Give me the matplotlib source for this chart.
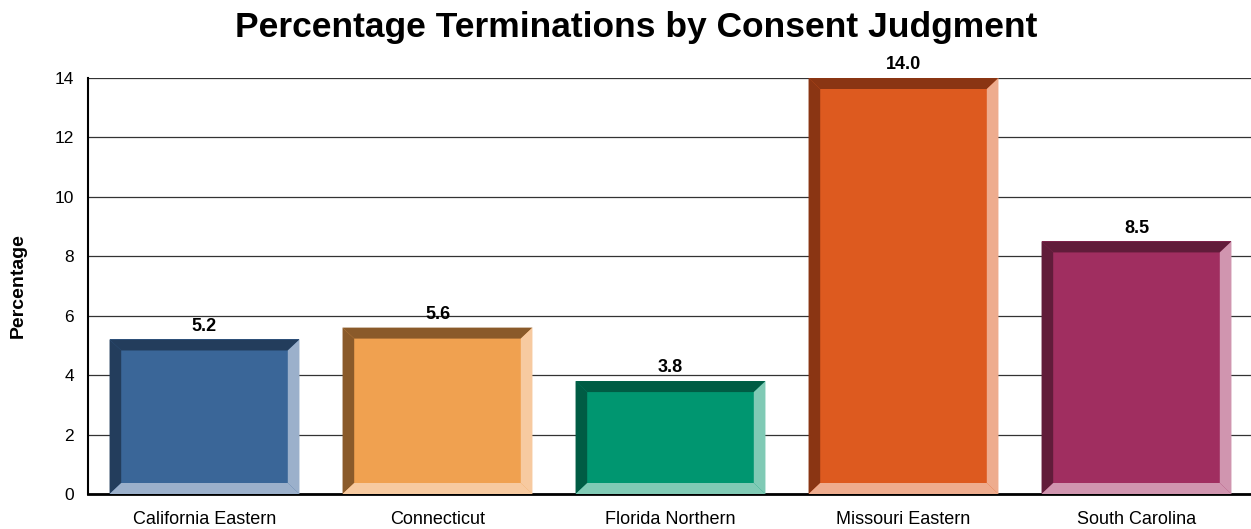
import matplotlib
matplotlib.use("Agg")
import matplotlib.pyplot as plt
from matplotlib.patches import Polygon

categories = ["California Eastern", "Connecticut", "Florida Northern", "Missouri Eastern", "South Carolina"]
values = [5.2, 5.6, 3.8, 14.0, 8.5]
main_colors = ["#3a6698", "#f0a150", "#009670", "#dd5a1f", "#a02e60"]
dark_colors = ["#233d5c", "#8a5a2a", "#005c44", "#8a3513", "#611c3a"]
light_colors = ["#9bb0cb", "#f7caa0", "#80cab5", "#eeac8e", "#d095af"]
yticks = [0, 2, 4, 6, 8, 10, 12, 14]

plt.rcParams['font.family'] = ['Liberation Sans', 'DejaVu Sans']

fig = plt.figure(figsize=(12.51, 5.29), dpi=100)
ax = fig.add_axes([88/1251, 35/529, 1165/1251, 416/529])

width = 0.815
bx = 0.05   # horizontal bevel in data units
by = 0.37   # vertical bevel in data units

xs = list(range(len(categories)))
bars = ax.bar(xs, values, width=width, color=main_colors, zorder=3, linewidth=0)

for x, v, dc, lc in zip(xs, values, dark_colors, light_colors):
    l, r = x - width/2, x + width/2
    b, t = 0, v
    il, ir, ib, it = l + bx, r - bx, b + by, t - by
    # dark: left + top
    ax.add_patch(Polygon([(l, b), (l, t), (il, it), (il, ib)], closed=True, color=dc, lw=0, zorder=4))
    ax.add_patch(Polygon([(l, t), (r, t), (ir, it), (il, it)], closed=True, color=dc, lw=0, zorder=4))
    # light: right + bottom
    ax.add_patch(Polygon([(r, t), (r, b), (ir, ib), (ir, it)], closed=True, color=lc, lw=0, zorder=4))
    ax.add_patch(Polygon([(l, b), (r, b), (ir, ib), (il, ib)], closed=True, color=lc, lw=0, zorder=4))
    ax.annotate(f"{v:.1f}", xy=(x, v), xytext=(0, 3.5), textcoords="offset points",
                ha="center", va="bottom", fontsize=13, fontweight="bold", zorder=5)

ax.set_xlim(-0.5, len(categories) - 0.5)
ax.set_ylim(0, 14)
ax.set_yticks(yticks)
ax.set_yticklabels([str(t) for t in yticks], fontsize=12.5)
ax.set_xticks(xs)
ax.set_xticklabels(categories, fontsize=13)
ax.tick_params(axis='y', length=0, pad=10)
ax.tick_params(axis='x', length=0, pad=12)
ax.yaxis.grid(True, color="#333333", linewidth=0.9, zorder=0)
ax.set_axisbelow(True)
for s in ["top", "right"]:
    ax.spines[s].set_visible(False)
ax.spines["left"].set_linewidth(1.5)
ax.spines["bottom"].set_linewidth(2)
ax.set_ylabel("Percentage", fontsize=14, fontweight="bold", labelpad=20)

fig.text(636/1251, 1 - 27/529, "Percentage Terminations by Consent Judgment",
         ha="center", va="center", fontsize=25.5, fontweight="bold")

fig.savefig("out.png", dpi=100)
